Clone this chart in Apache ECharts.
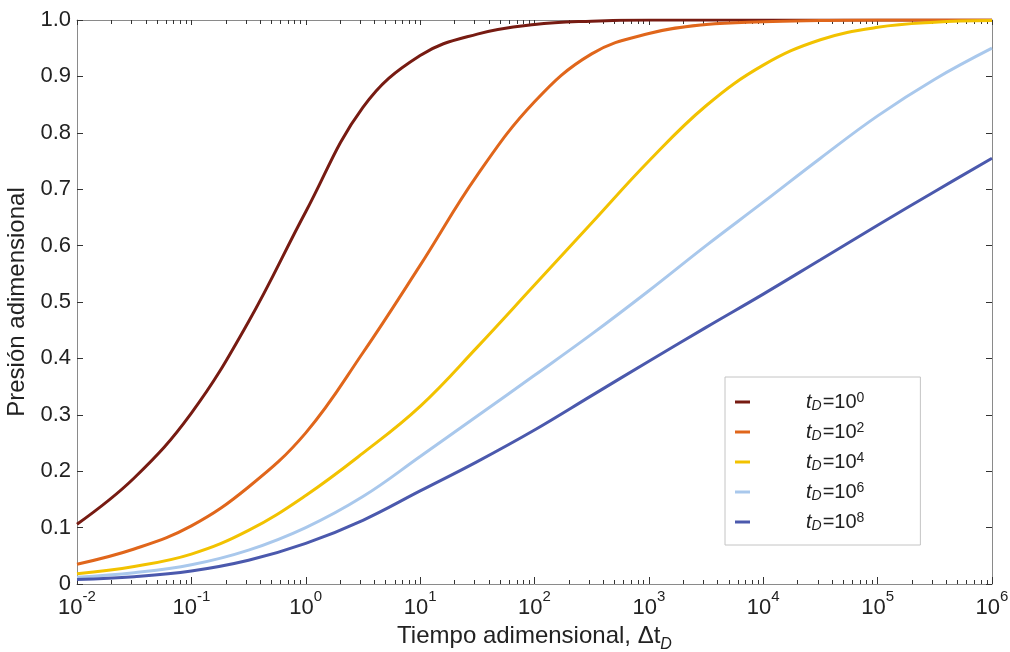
<!DOCTYPE html>
<html>
<head>
<meta charset="utf-8">
<script src="https://cdn.jsdelivr.net/npm/echarts@6/dist/echarts.min.js"></script>
<style>html,body{margin:0;padding:0;background:#fff}#c{width:1010px;height:652px}</style>
</head>
<body>
<div id="c"></div>
<script>
// Δt_D sample positions (half decades from 1e-2 to 1e6)
const tValues = [0.01, 0.0316, 0.1, 0.316, 1, 3.16, 10, 31.6, 100, 316, 1000, 3162, 1e4, 31623, 1e5, 316228, 1e6];
const seriesNames = ['tD=10^0', 'tD=10^2', 'tD=10^4', 'tD=10^6', 'tD=10^8'];
const legendExp = ['0', '2', '4', '6', '8'];
const p_tD1e0 = [0.106, 0.188, 0.303, 0.465, 0.66, 0.845, 0.937, 0.975, 0.992, 0.998, 1.0, 1.0, 1.0, 1.0, 1.0, 1.0, 1.0];
const p_tD1e2 = [0.035, 0.062, 0.103, 0.172, 0.268, 0.41, 0.565, 0.725, 0.855, 0.94, 0.976, 0.992, 0.997, 0.999, 1.0, 1.0, 1.0];
const p_tD1e4 = [0.018, 0.031, 0.053, 0.095, 0.157, 0.232, 0.315, 0.42, 0.53, 0.64, 0.75, 0.848, 0.92, 0.965, 0.987, 0.996, 0.999];
const p_tD1e6 = [0.012, 0.02, 0.034, 0.06, 0.1, 0.155, 0.226, 0.298, 0.37, 0.443, 0.52, 0.6, 0.677, 0.755, 0.83, 0.895, 0.95];
const p_tD1e8 = [0.008, 0.013, 0.023, 0.042, 0.072, 0.113, 0.165, 0.217, 0.273, 0.334, 0.395, 0.455, 0.514, 0.575, 0.636, 0.696, 0.755];
const colors = ['#771b12', '#e0661b', '#f2c200', '#a9c8ec', '#4b59ad'];

const allP = [p_tD1e0, p_tD1e2, p_tD1e4, p_tD1e6, p_tD1e8];
const FONT = '"Liberation Sans", Arial, sans-serif';

// minor tick positions in log10 space (2..9 x 10^n)
const minorExp = [];
for (let n = -2; n < 6; n++) for (let k = 2; k <= 9; k++) minorExp.push(n + Math.log10(k));

const chart = echarts.init(document.getElementById('c'), null, {renderer: 'canvas'});
const frameColor = '#8a8a8a';
const tickColor = '#333';

const option = {
  animation: false,
  backgroundColor: '#fff',
  textStyle: {fontFamily: FONT},
  grid: {left: 77, right: 18, top: 20, bottom: 68, containLabel: false, outerBoundsMode: 'none'},
  legend: {
    orient: 'vertical',
    left: 725, top: 377,
    padding: [14, 56, 12, 10],
    itemGap: 8,
    itemWidth: 15, itemHeight: 3,
    icon: 'rect',
    backgroundColor: '#fff',
    borderColor: '#c4c4c4', borderWidth: 1,
    data: seriesNames,
    formatter: function (name) {
      const i = seriesNames.indexOf(name);
      return '{sp|}{t|t}{sub|D}{n|=10}{sup|' + legendExp[i] + '}';
    },
    textStyle: {
      fontFamily: FONT, color: '#222', fontSize: 20, lineHeight: 22,
      rich: {
        sp: {width: 51},
        t: {fontSize: 20, fontStyle: 'italic', fontFamily: FONT, lineHeight: 22},
        sub: {fontSize: 14, fontStyle: 'italic', fontFamily: FONT, verticalAlign: 'bottom', lineHeight: 22, padding: [0, 1, 0, 0]},
        n: {fontSize: 20, fontFamily: FONT, lineHeight: 22},
        sup: {fontSize: 14, fontFamily: FONT, verticalAlign: 'top', lineHeight: 22}
      }
    }
  },
  xAxis: [
    {
      type: 'log', logBase: 10, min: 0.01, max: 1e6, position: 'bottom',
      name: '{a|Tiempo adimensional, Δt}{s|D}',
      nameLocation: 'middle', nameGap: 34,
      nameTextStyle: {
        rich: {
          a: {fontSize: 24, fontFamily: FONT, color: '#222'},
          s: {fontSize: 16, fontStyle: 'italic', fontFamily: FONT, color: '#222', verticalAlign: 'bottom', lineHeight: 34}
        }
      },
      axisLine: {show: true, onZero: false, lineStyle: {color: frameColor, width: 1}},
      axisTick: {show: true, inside: true, length: 7, lineStyle: {color: tickColor}},
      splitLine: {show: false},
      axisLabel: {
        margin: 5,
        formatter: function (v) {
          const e = Math.round(Math.log10(v));
          return '{b|10}{s|' + (e < 0 ? '-' + (-e) : e) + '}';
        },
        rich: {
          b: {fontSize: 22, fontFamily: FONT, color: '#222', lineHeight: 30, verticalAlign: 'bottom'},
          s: {fontSize: 15, fontFamily: FONT, color: '#222', lineHeight: 30, verticalAlign: 'top'}
        }
      }
    },
    {
      type: 'value', min: -2, max: 6, position: 'bottom',
      axisLine: {show: false, onZero: false}, splitLine: {show: false}, axisLabel: {show: false},
      axisTick: {show: true, inside: true, length: 4, customValues: minorExp, lineStyle: {color: tickColor}}
    },
    {
      type: 'log', logBase: 10, min: 0.01, max: 1e6, position: 'top',
      axisLine: {show: true, onZero: false, lineStyle: {color: frameColor, width: 1}},
      axisTick: {show: true, inside: true, length: 5, lineStyle: {color: tickColor}},
      axisLabel: {show: false}, splitLine: {show: false}
    },
    {
      type: 'value', min: -2, max: 6, position: 'top',
      axisLine: {show: false, onZero: false}, splitLine: {show: false}, axisLabel: {show: false},
      axisTick: {show: true, inside: true, length: 4, customValues: minorExp, lineStyle: {color: tickColor}}
    }
  ],
  yAxis: [
    {
      type: 'value', min: 0, max: 1, interval: 0.1, position: 'left',
      name: 'Presión adimensional', nameLocation: 'middle', nameGap: 44,
      nameTextStyle: {fontSize: 24, fontFamily: FONT, color: '#222'},
      axisLine: {show: true, onZero: false, lineStyle: {color: frameColor, width: 1}},
      axisTick: {show: true, inside: true, length: 6, lineStyle: {color: tickColor}},
      splitLine: {show: false},
      axisLabel: {
        fontSize: 22, fontFamily: FONT, color: '#222', margin: 6,
        formatter: function (v) { return v === 0 ? '0' : v.toFixed(1); }
      }
    },
    {
      type: 'value', min: 0, max: 1, interval: 0.1, position: 'right',
      axisLine: {show: true, onZero: false, lineStyle: {color: frameColor, width: 1}},
      axisTick: {show: true, inside: true, length: 6, lineStyle: {color: tickColor}},
      axisLabel: {show: false}, splitLine: {show: false}
    }
  ],
  series: seriesNames.map(function (name, i) {
    return {
      name: name, type: 'line', xAxisIndex: 0, yAxisIndex: 0,
      smooth: 0.4, symbol: 'none',
      lineStyle: {color: colors[i], width: 3},
      itemStyle: {color: colors[i]},
      data: tValues.map(function (t, j) { return [t, allP[i][j]]; })
    };
  })
};
chart.setOption(option);
</script>
</body>
</html>
